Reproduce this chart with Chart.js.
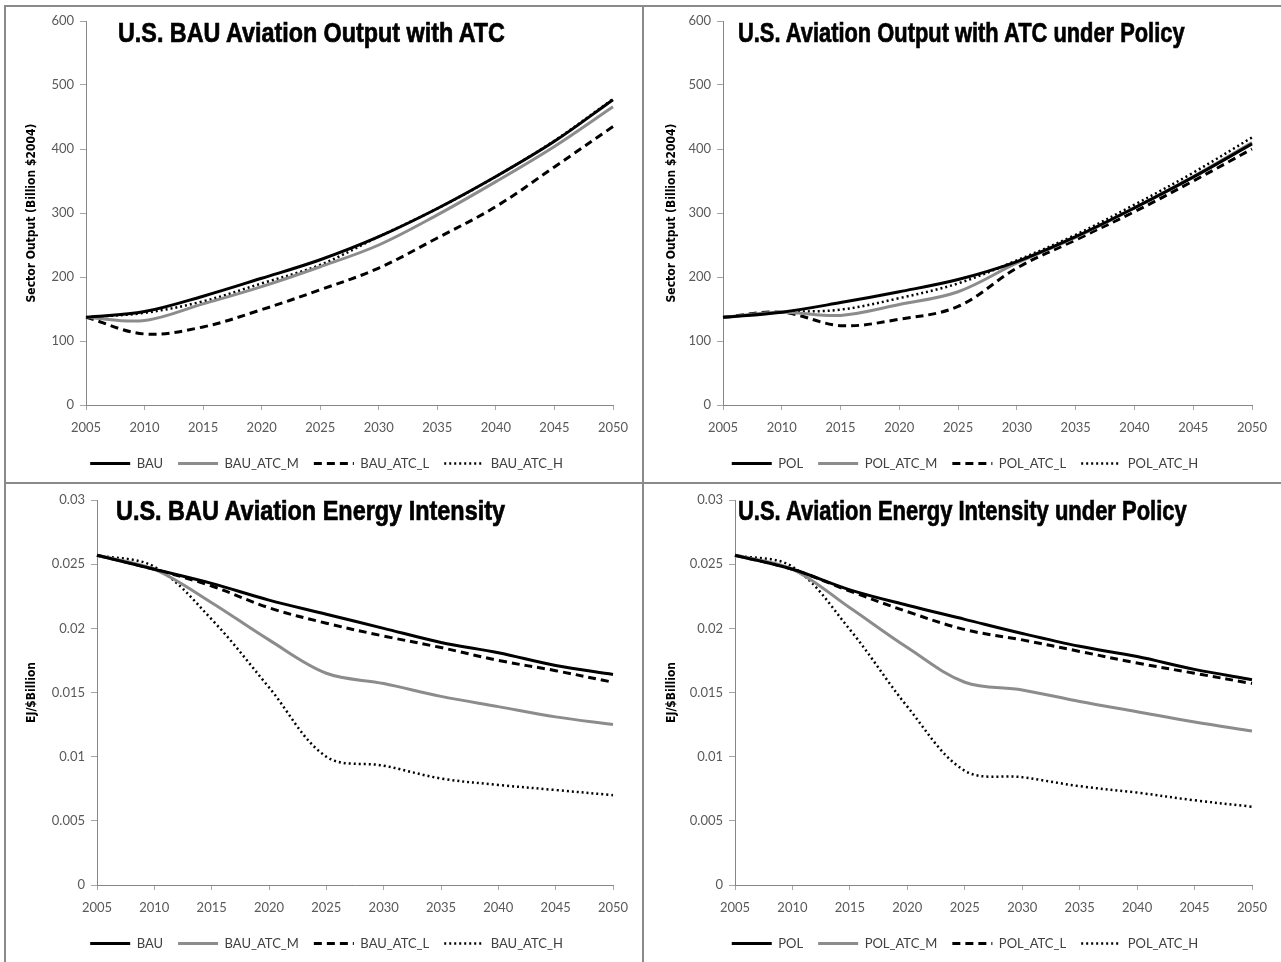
<!DOCTYPE html>
<html>
<head>
<meta charset="utf-8">
<script src="https://cdn.jsdelivr.net/npm/chart.js@4"></script>
<style>
body { margin: 0; background: #fff; }
#page { position: relative; width: 1281px; height: 962px; overflow: hidden; }
.panel { position: absolute; }
.title {
    position: absolute;
    font-family: "Liberation Sans", Arial, sans-serif;
    font-weight: bold;
    font-size: 27px;
    line-height: 30px;
    color: #000;
    -webkit-text-stroke: 0.7px #000;
    white-space: nowrap;
    transform-origin: 0 0;
    z-index: 2;
}
.rule { position: absolute; background: #8a8a8a; z-index: 3; }
</style>
</head>
<body>
<div id="page">
    <canvas class="panel" id="bau-output" width="641" height="482" style="left:0;top:0"></canvas>
    <canvas class="panel" id="pol-output" width="640" height="482" style="left:641px;top:0"></canvas>
    <canvas class="panel" id="bau-intensity" width="641" height="480" style="left:0;top:482px"></canvas>
    <canvas class="panel" id="pol-intensity" width="640" height="480" style="left:641px;top:482px"></canvas>

    <div class="title" data-x="118" data-w="387" style="top:18px">U.S. BAU Aviation Output with ATC</div>
    <div class="title" data-x="738" data-w="447" style="top:18px">U.S. Aviation Output with ATC under Policy</div>
    <div class="title" data-x="116" data-w="389" style="top:496px">U.S. BAU Aviation Energy Intensity</div>
    <div class="title" data-x="738" data-w="449" style="top:496px">U.S. Aviation Energy Intensity under Policy</div>

    <div class="rule" style="left:4px;top:5px;width:2px;height:957px"></div>
    <div class="rule" style="left:4px;top:5px;width:1277px;height:2px"></div>
    <div class="rule" style="left:642px;top:5px;width:2px;height:957px"></div>
    <div class="rule" style="left:4px;top:482px;width:1277px;height:2px"></div>
</div>

<script>
// categories
const years = ['2005', '2010', '2015', '2020', '2025', '2030', '2035', '2040', '2045', '2050'];

// tick labels
const outputTicks = [0, 100, 200, 300, 400, 500, 600];
const intensityTicks = [0, 0.005, 0.01, 0.015, 0.02, 0.025, 0.03];

// series names
const bauNames = ['BAU', 'BAU_ATC_M', 'BAU_ATC_L', 'BAU_ATC_H'];
const polNames = ['POL', 'POL_ATC_M', 'POL_ATC_L', 'POL_ATC_H'];

// sector output, billion $2004 (BAU)
const bauOut     = [137, 146, 170, 198, 227, 263, 307, 357, 412, 477];
const bauAtcMOut = [137, 132, 158, 185, 216, 250, 297, 349, 404, 466];
const bauAtcLOut = [137, 111, 122, 149, 180, 214, 261, 310, 372, 435];
const bauAtcHOut = [137, 144, 162, 190, 219, 263, 307, 357, 413, 478];

// sector output under policy
const polOut     = [137, 145, 160, 177, 196, 224, 263, 308, 356, 408];
const polAtcMOut = [137, 145, 140, 157, 177, 222, 262, 308, 357, 410];
const polAtcLOut = [137, 145, 124, 134, 154, 214, 258, 302, 350, 400];
const polAtcHOut = [137, 145, 149, 167, 190, 226, 266, 313, 363, 418];

// energy intensity, EJ/$billion (BAU)
const bauInt     = [0.0257, 0.0246, 0.0235, 0.0222, 0.0211, 0.0200, 0.0189, 0.0181, 0.0171, 0.0164];
const bauAtcMInt = [0.0257, 0.0246, 0.0220, 0.0191, 0.0165, 0.0157, 0.0147, 0.0139, 0.0131, 0.0125];
const bauAtcLInt = [0.0257, 0.0246, 0.0233, 0.0216, 0.0204, 0.0194, 0.0185, 0.0175, 0.0167, 0.0158];
const bauAtcHInt = [0.0257, 0.0248, 0.0207, 0.0154, 0.0100, 0.0093, 0.0083, 0.0078, 0.0074, 0.0070];

// energy intensity under policy
const polInt     = [0.0257, 0.0246, 0.0230, 0.0218, 0.0207, 0.0196, 0.0186, 0.0178, 0.0168, 0.0160];
const polAtcMInt = [0.0257, 0.0246, 0.0216, 0.0185, 0.0158, 0.0152, 0.0143, 0.0135, 0.0127, 0.0120];
const polAtcLInt = [0.0257, 0.0246, 0.0229, 0.0213, 0.0199, 0.0191, 0.0182, 0.0173, 0.0165, 0.0157];
const polAtcHInt = [0.0257, 0.0248, 0.0199, 0.0139, 0.0089, 0.0084, 0.0077, 0.0072, 0.0066, 0.0061];

// solid, grey, dashed, dotted
const lineStyles = [
    { borderColor: '#000000', borderWidth: 3, borderDash: [] },
    { borderColor: '#8c8c8c', borderWidth: 3, borderDash: [] },
    { borderColor: '#000000', borderWidth: 3, borderDash: [8, 5] },
    { borderColor: '#000000', borderWidth: 2.5, borderDash: [2, 3] }
];

const tickFont = { family: 'Lato', size: 13 };
const axisTitleFont = { family: '"DejaVu Sans Condensed", sans-serif', size: 12, weight: 'bold' };

// titles are squeezed to the width of the original condensed face
document.querySelectorAll('.title').forEach(el => {
    const k = +el.dataset.w / el.offsetWidth;
    el.style.left = el.dataset.x + 'px';
    el.style.transform = 'scaleX(' + k + ')';
});

function makeChart(id, names, series, yTicks, yTitle, box) {
    new Chart(document.getElementById(id), {
        type: 'line',
        data: {
            labels: years,
            datasets: names.map((name, i) => Object.assign({
                label: name,
                data: series[i],
                pointRadius: 0,
                tension: 0.35,
                fill: false
            }, lineStyles[i]))
        },
        options: {
            responsive: false,
            animation: false,
            layout: { padding: box.padding },
            plugins: {
                legend: {
                    position: 'bottom',
                    labels: {
                        usePointStyle: true,
                        pointStyle: 'line',
                        pointStyleWidth: 40,
                        color: '#404040',
                        font: tickFont,
                        padding: 15,
                        // legend samples take the dash of their line
                        generateLabels: chart =>
                            Chart.defaults.plugins.legend.labels.generateLabels(chart).map((item, i) =>
                                Object.assign(item, {
                                    lineDash: lineStyles[i].borderDash,
                                    lineWidth: lineStyles[i].borderWidth,
                                    strokeStyle: lineStyles[i].borderColor
                                }))
                    }
                },
                tooltip: { enabled: false }
            },
            scales: {
                x: {
                    grid: { drawOnChartArea: false, tickLength: 5, color: '#a6a6a6' },
                    border: { color: '#868686' },
                    ticks: { color: '#595959', font: tickFont, padding: 10, maxRotation: 0, autoSkip: false },
                    afterFit: s => { s.height = 37; }
                },
                y: {
                    min: yTicks[0],
                    max: yTicks[yTicks.length - 1],
                    afterBuildTicks: s => { s.ticks = yTicks.map(v => ({ value: v })); },
                    grid: { drawOnChartArea: false, tickLength: 6, color: '#a6a6a6' },
                    border: { color: '#868686' },
                    ticks: {
                        color: '#595959',
                        font: tickFont,
                        padding: 6,
                        callback: v => String(+v.toFixed(3))
                    },
                    title: {
                        display: true,
                        text: yTitle,
                        color: '#000',
                        font: axisTitleFont,
                        padding: { top: box.titlePad, bottom: 0 }
                    },
                    afterFit: s => { s.width = box.yWidth; }
                }
            }
        }
    });
}

makeChart('bau-output', bauNames, [bauOut, bauAtcMOut, bauAtcLOut, bauAtcHOut],
    outputTicks, 'Sector Output (Billion $2004)',
    { padding: { left: 40, right: 28, top: 21, bottom: 2 }, yWidth: 46, titlePad: -15 });

makeChart('pol-output', polNames, [polOut, polAtcMOut, polAtcLOut, polAtcHOut],
    outputTicks, 'Sector Output (Billion $2004)',
    { padding: { left: 37, right: 29, top: 21, bottom: 2 }, yWidth: 45, titlePad: -13 });

makeChart('bau-intensity', bauNames, [bauInt, bauAtcMInt, bauAtcLInt, bauAtcHInt],
    intensityTicks, 'EJ/$Billion',
    { padding: { left: 40, right: 28, top: 18, bottom: 2 }, yWidth: 57, titlePad: -15 });

makeChart('pol-intensity', polNames, [polInt, polAtcMInt, polAtcLInt, polAtcHInt],
    intensityTicks, 'EJ/$Billion',
    { padding: { left: 37, right: 29, top: 18, bottom: 2 }, yWidth: 57, titlePad: -13 });
</script>
</body>
</html>
